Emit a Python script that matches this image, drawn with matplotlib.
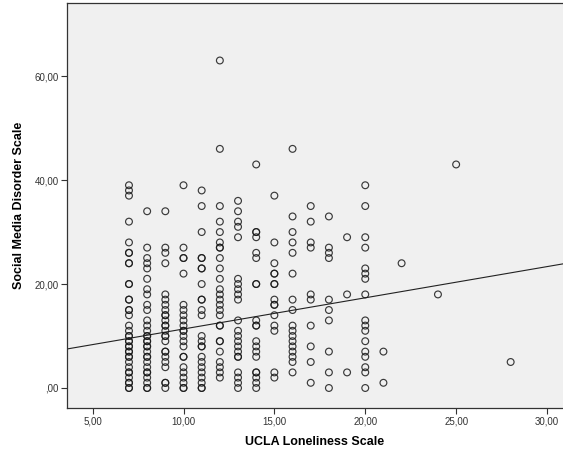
import numpy as np
import matplotlib.pyplot as plt

plt.rcParams['font.family'] = ['Liberation Sans', 'DejaVu Sans']

# UCLA loneliness score -> social media disorder scores
smd_by_ucla = {
    7: [39, 38, 37, 32, 28, 26, 26, 24, 24, 20, 20, 17, 17, 15, 15, 14, 12,
        11, 10, 10, 9, 9, 8, 8, 7, 7, 6, 6, 5, 4, 3, 3, 2, 1, 1, 0, 0],
    8: [34, 27, 25, 24, 23, 21, 19, 18, 16, 15, 13, 12, 11, 10, 10, 9, 9, 8, 8,
        7, 6, 6, 5, 4, 3, 3, 2, 1, 0, 0],
    9: [34, 27, 26, 24, 18, 17, 16, 15, 14, 14, 13, 12, 12, 11, 10, 10, 9, 7, 7,
        6, 5, 4, 1, 1, 0],
    10: [39, 27, 25, 25, 22, 16, 15, 14, 13, 12, 11, 11, 10, 9, 8, 6, 6, 4, 3,
         2, 1, 0, 0],
    11: [38, 35, 30, 25, 25, 23, 23, 20, 17, 17, 15, 14, 10, 9, 8, 8, 6, 5, 4,
         3, 2, 1, 0, 0],
    12: [63, 46, 35, 32, 30, 28, 27, 27, 25, 23, 21, 19, 18, 17, 16, 15, 14,
         12, 12, 9, 9, 7, 5, 4, 3, 2],
    13: [36, 34, 32, 31, 29, 21, 20, 19, 18, 17, 13, 11, 10, 9, 8, 7, 6, 6, 3,
         2, 1, 0],
    14: [43, 30, 30, 29, 26, 25, 20, 20, 13, 12, 12, 9, 8, 7, 6, 3, 3, 2, 1, 0],
    15: [37, 28, 24, 22, 22, 20, 20, 17, 16, 16, 14, 12, 11, 3, 2],
    16: [46, 33, 30, 28, 26, 22, 17, 15, 12, 11, 10, 9, 8, 7, 6, 5, 3],
    17: [35, 32, 28, 27, 18, 17, 12, 8, 5, 1],
    18: [33, 27, 26, 25, 17, 15, 13, 7, 3, 0],
    19: [29, 18, 3],
    20: [39, 35, 29, 27, 23, 22, 21, 18, 13, 12, 11, 9, 7, 6, 4, 3, 0],
    21: [7, 1],
    22: [24],
    24: [18],
    25: [43],
    28: [5],
}

# fit line
fit_intercept = 5.35
fit_slope = 0.60

x_ticks = [5, 10, 15, 20, 25, 30]
y_ticks = [0, 20, 40, 60]

ucla = []
smd = []
for k, vals in smd_by_ucla.items():
    ucla += [k] * len(vals)
    smd += vals

fig = plt.figure(figsize=(5.63, 4.54), dpi=100)
ax = fig.add_axes([0.119, 0.1013, 0.881, 0.8914])
ax.set_facecolor('#f0f0f0')

ax.scatter(ucla, smd, s=24, facecolors='none', edgecolors='#1a1a1a',
           linewidths=0.85, alpha=0.85, zorder=3)

xlim = (3.59, 30.88)
ax.set_xlim(*xlim)
ax.set_ylim(-3.85, 74.0)
xs = np.array(xlim)
ax.plot(xs, fit_intercept + fit_slope * xs, color='#222222', lw=0.8, zorder=2)

ax.set_xticks(x_ticks)
ax.set_xticklabels([f"{v},00" for v in x_ticks])
ax.set_yticks(y_ticks)
ax.set_yticklabels([f"{v},00" if v else ",00" for v in y_ticks])
ax.tick_params(labelsize=7, colors='#333333', length=4, width=0.8, pad=2)

for side in ('left', 'bottom', 'top'):
    ax.spines[side].set_color('#333333')
    ax.spines[side].set_linewidth(0.9)
ax.spines['right'].set_visible(False)

ax.set_xlabel("UCLA Loneliness Scale", fontsize=9, fontweight='bold', labelpad=7)
ax.set_ylabel("Social Media Disorder Scale", fontsize=9, fontweight='bold', labelpad=7)

fig.savefig('out.png', dpi=100)
